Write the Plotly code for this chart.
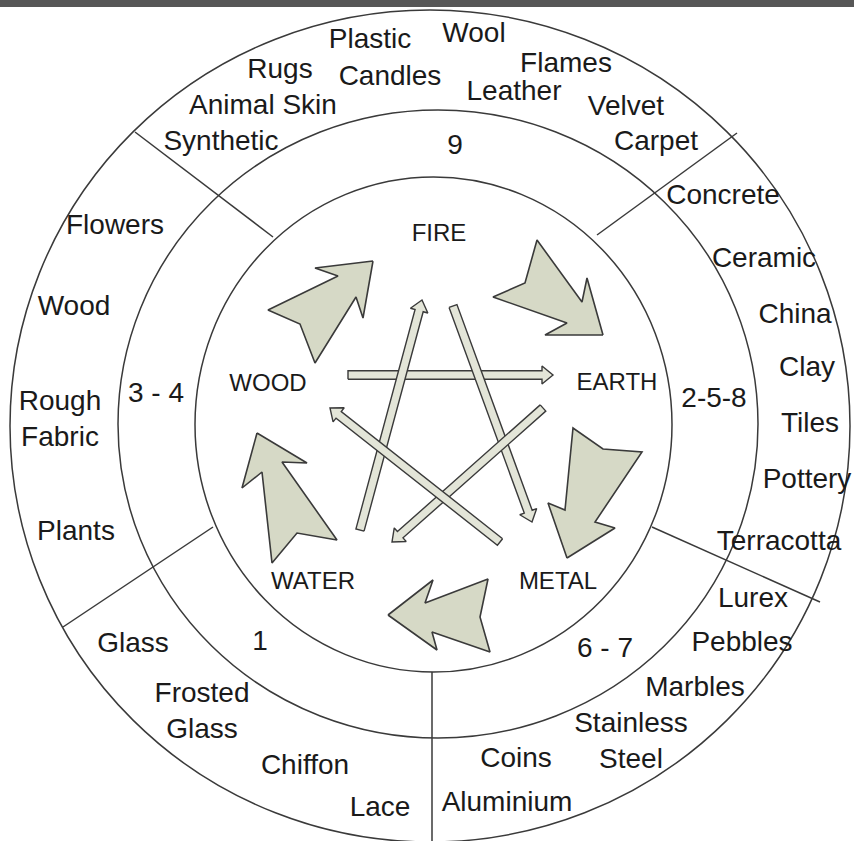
import numpy as np
import plotly.graph_objects as go

W, H = 854, 841

# ---------------- data ----------------
material_labels = ["Plastic", "Wool", "Rugs", "Candles", "Flames", "Animal Skin", "Leather", "Velvet",
                   "Synthetic", "Carpet", "Concrete", "Flowers", "Ceramic", "Wood", "China", "Clay",
                   "Rough<br>Fabric", "Tiles", "Pottery", "Plants", "Terracotta", "Lurex", "Glass",
                   "Pebbles", "Frosted<br>Glass", "Marbles", "Stainless<br>Steel", "Coins", "Chiffon",
                   "Lace", "Aluminium"]
material_x = [370, 474, 280, 390, 566, 263, 514, 626, 221, 656, 723, 115, 764, 74, 795, 807,
              60, 810, 807, 76, 779, 753, 133, 742, 202, 695, 631, 516, 305, 380, 507]
material_y = [38, 32, 68, 75, 62, 104, 90, 105, 140, 140, 194, 224, 257, 305, 313, 366,
              418, 422, 478, 530, 540, 597, 642, 641, 710, 686, 740, 757, 764, 806, 801]

number_labels = ["9", "3 - 4", "2-5-8", "1", "6 - 7"]
number_x = [455, 156, 714, 260, 605]
number_y = [144, 392, 397, 640, 647]

element_labels = ["FIRE", "WOOD", "EARTH", "WATER", "METAL"]
element_x = [439, 268, 617, 313, 558]
element_y = [233, 383, 382, 581, 581]

# rings (left, right, top, bottom)
rings = [(10, 850, 10, 842), (118, 758, 110, 738), (195, 672, 177, 672)]

# sector dividers (x0, y0, x1, y1)
dividers = [(135, 132, 273, 237), (597, 235, 737, 133), (652, 527, 820, 602),
            (432, 672, 432, 841), (213, 527, 63, 627)]

# generating-cycle arrows (polygon vertices)
cycle_arrows = {
    "Wood-Fire": [(373, 261), (315, 268), (338, 276), (268, 310), (300, 324), (315, 363), (356, 297), (363, 318)],
    "Fire-Earth": [(603, 335), (587, 278), (582, 302), (537, 240), (525, 283), (493, 297), (567, 323), (545, 335)],
    "Earth-Metal": [(567, 558), (548, 503), (565, 510), (573, 428), (603, 449), (642, 452), (595, 522), (615, 528)],
    "Metal-Water": [(388, 615), (433, 580), (425, 603), (488, 579), (480, 617), (490, 652), (432, 632), (437, 650)],
    "Water-Wood": [(257, 433), (307, 463), (282, 462), (337, 540), (297, 533), (272, 563), (262, 472), (242, 488)],
}

# controlling-cycle arrows (start, tip)
control_arrows = [((348, 375), (553, 375)), ((360, 530), (422, 300)), ((453, 306), (532, 522)),
                  ((543, 408), (392, 542)), ((500, 542), (330, 408))]

# ---------------- figure ----------------
fig = go.Figure()

LINE = "#3a3a3a"
BIG_FILL = "#d6d9c6"
THIN_FILL = "#e3e5d8"
TEXT_DY = 3

shapes = [dict(type="rect", xref="x", yref="y", x0=0, x1=W, y0=0, y1=7,
               fillcolor="#575757", line=dict(width=0), layer="above")]
for (l, r, t, b) in rings:
    shapes.append(dict(type="circle", xref="x", yref="y", x0=l, x1=r, y0=t, y1=b,
                       line=dict(color=LINE, width=1.5), layer="below"))
for (x0, y0, x1, y1) in dividers:
    shapes.append(dict(type="line", xref="x", yref="y", x0=x0, y0=y0, x1=x1, y1=y1,
                       line=dict(color=LINE, width=1.5), layer="below"))

for name, pts in cycle_arrows.items():
    xs = [p[0] for p in pts] + [pts[0][0]]
    ys = [p[1] for p in pts] + [pts[0][1]]
    fig.add_trace(go.Scatter(x=xs, y=ys, mode="lines", fill="toself", fillcolor=BIG_FILL,
                             line=dict(color=LINE, width=1.6), hoverinfo="skip", showlegend=False))

w_shaft, w_head, l_head = 4.2, 9.0, 11.0
for (s, t) in control_arrows:
    S = np.array(s, float)
    T = np.array(t, float)
    u = (T - S) / np.linalg.norm(T - S)
    n = np.array([-u[1], u[0]])
    B = T - u * l_head
    poly = [S + n * w_shaft, B + n * w_shaft, B + n * w_head, T, B - n * w_head,
            B - n * w_shaft, S - n * w_shaft, S + n * w_shaft]
    fig.add_trace(go.Scatter(x=[p[0] for p in poly], y=[p[1] for p in poly], mode="lines",
                             fill="toself", fillcolor=THIN_FILL,
                             line=dict(color=LINE, width=1.4), hoverinfo="skip", showlegend=False))

FONT = "Liberation Sans, Arial, sans-serif"
fig.add_trace(go.Scatter(x=material_x, y=[y + TEXT_DY for y in material_y], text=material_labels,
                         mode="text", textposition="middle center",
                         textfont=dict(family=FONT, size=28, color="#1a1a1a"),
                         hoverinfo="skip", showlegend=False))
fig.add_trace(go.Scatter(x=number_x, y=[y + TEXT_DY for y in number_y], text=number_labels,
                         mode="text", textposition="middle center",
                         textfont=dict(family=FONT, size=28, color="#1a1a1a"),
                         hoverinfo="skip", showlegend=False))
fig.add_trace(go.Scatter(x=element_x, y=[y + 2 for y in element_y], text=element_labels,
                         mode="text", textposition="middle center",
                         textfont=dict(family=FONT, size=24, color="#1a1a1a"),
                         hoverinfo="skip", showlegend=False))

fig.update_layout(
    width=W, height=H,
    margin=dict(l=0, r=0, t=0, b=0),
    paper_bgcolor="white", plot_bgcolor="white",
    xaxis=dict(range=[0, W], visible=False, fixedrange=True),
    yaxis=dict(range=[H, 0], visible=False, fixedrange=True),
    shapes=shapes,
    showlegend=False,
)

fig.write_html("out.html", config={"displayModeBar": False},
               post_script="document.body.style.margin='0';document.body.style.overflow='hidden';")
